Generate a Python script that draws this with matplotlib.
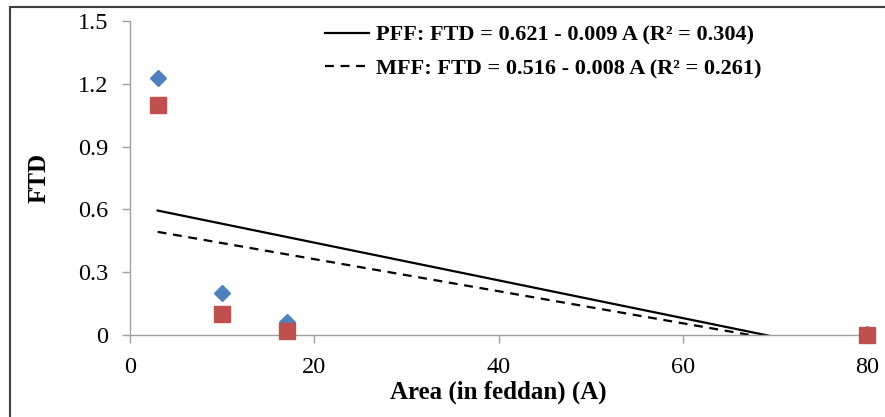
import numpy as np
import matplotlib
matplotlib.use("Agg")
import matplotlib.pyplot as plt
from matplotlib.lines import Line2D

# Data
area = [3, 10, 17, 80]
pff = [1.23, 0.20, 0.06, 0.005]
mff = [1.10, 0.10, 0.02, 0.0]
pff_label = "PFF: FTD = 0.621 - 0.009 A (R² = 0.304)"
mff_label = "MFF: FTD = 0.516 - 0.008 A (R² = 0.261)"
xticks = [0, 20, 40, 60, 80]
yticks = [0, 0.3, 0.6, 0.9, 1.2, 1.5]
ytick_labels = ["0", "0.3", "0.6", "0.9", "1.2", "1.5"]

plt.rcParams['font.family'] = ['Liberation Serif', 'DejaVu Serif']

W, H = 885, 417
fig = plt.figure(figsize=(W / 100, H / 100), dpi=100)
ax = fig.add_axes([130 / W, 1 - 335 / H, (867 - 130) / W, (335 - 21) / H])

blue = "#4F81BD"
red = "#C0504D"

ax.plot(area, pff, linestyle="none", marker="D", markersize=8, color=blue,
        clip_on=False, zorder=3)
ax.plot(area, mff, linestyle="none", marker="s", markersize=12, color=red,
        clip_on=False, zorder=4)

# Linear trend lines fitted from the data
xs = np.linspace(min(area), max(area), 400)
p1 = np.polyfit(area, pff, 1)
p2 = np.polyfit(area, mff, 1)
ax.plot(xs, np.polyval(p1, xs), color="black", lw=1.6, zorder=2)
ax.plot(xs, np.polyval(p2, xs), color="black", lw=1.6, ls=(0, (4, 3)), zorder=2)

ax.set_xlim(0, 80)
ax.set_ylim(0, 1.5)
ax.set_xticks(xticks)
ax.set_xticklabels([str(t) for t in xticks])
ax.set_yticks(yticks)
ax.set_yticklabels(ytick_labels)

for s in ["top", "right"]:
    ax.spines[s].set_visible(False)
for s in ["left", "bottom"]:
    ax.spines[s].set_color("#a0a0a0")
    ax.spines[s].set_linewidth(1.0)
ax.tick_params(axis="both", direction="out", length=5.5, width=1.0,
               color="#a0a0a0", labelsize=17.5, labelcolor="black")
ax.tick_params(axis="y", pad=10)
ax.tick_params(axis="x", pad=10)

ax.set_xlabel("Area (in feddan) (A)", fontsize=18, fontweight="bold", labelpad=2)
ax.set_ylabel("FTD", fontsize=18, fontweight="bold", labelpad=20)

handles = [Line2D([], [], color="black", lw=1.6),
           Line2D([], [], color="black", lw=1.6, ls=(0, (4, 3)))]
leg = fig.legend(handles, [pff_label, mff_label], loc="upper left",
                 bbox_to_anchor=(325 / W, 1 - 25 / H), frameon=False,
                 prop={"size": 16, "weight": "bold"}, handlelength=2.0,
                 handletextpad=0.3, labelspacing=0.58, borderpad=0,
                 borderaxespad=0)

# Outer frame (left and top edges visible)
fc = "#404040"
fig.add_artist(Line2D([10 / W, 10 / W], [0, 1 - 7 / H], color=fc, lw=1.5,
                      transform=fig.transFigure))
fig.add_artist(Line2D([10 / W, 1], [1 - 7 / H, 1 - 7 / H], color=fc, lw=1.5,
                      transform=fig.transFigure))

fig.savefig("out.png", dpi=100)
